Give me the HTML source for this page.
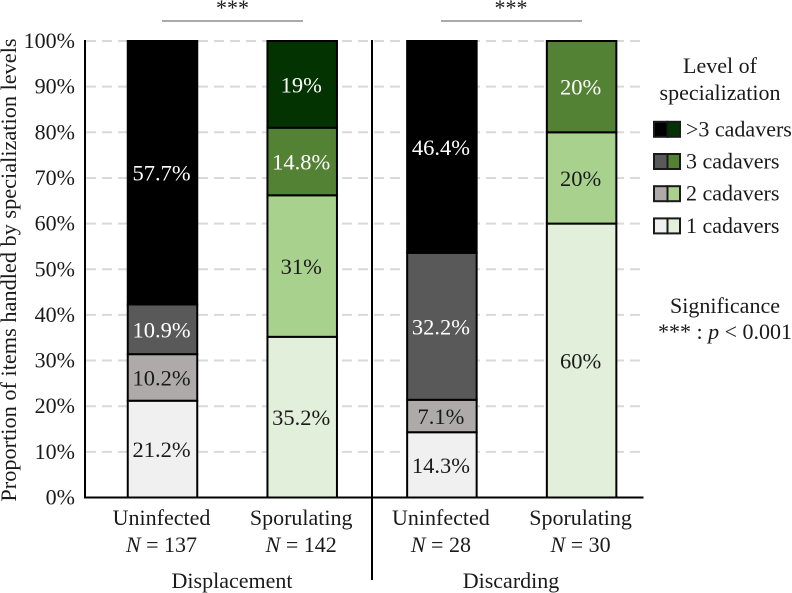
<!DOCTYPE html>
<html>
<head>
<meta charset="utf-8">
<title>Proportion of items handled by specialization levels</title>
<style>
html,body{margin:0;padding:0;background:#fff;}
svg{display:block;}
text{font-family:"Liberation Serif",serif;font-size:22px;fill:#1a1a1a;}
</style>
</head>
<body>
<svg id="chart" xmlns="http://www.w3.org/2000/svg" width="792" height="593" viewBox="0 0 792 593">
  <g id="grid"></g>
  <g id="bars"></g>
  <g id="axes">
    <line x1="85" y1="40" x2="85" y2="498.5" stroke="#000" stroke-width="2"/>
    <line x1="84" y1="497.5" x2="643.5" y2="497.5" stroke="#000" stroke-width="2"/>
    <line x1="372" y1="40" x2="372" y2="580" stroke="#000" stroke-width="2"/>
  </g>
  <g id="ticks"></g>
  <g id="cats"></g>
  <text transform="translate(16,270) rotate(-90)" text-anchor="middle" style="font-size:22.3px">Proportion of items handled by specialization levels</text>
  <text x="232" y="588" text-anchor="middle">Displacement</text>
  <text x="511" y="588" text-anchor="middle">Discarding</text>
  <line x1="162" y1="21" x2="303" y2="21" stroke="#555" stroke-width="1"/>
  <line x1="441" y1="21" x2="582" y2="21" stroke="#555" stroke-width="1"/>
  <text x="232.5" y="15" text-anchor="middle">***</text>
  <text x="511" y="15" text-anchor="middle">***</text>
  <g id="legend">
    <text x="720" y="73" text-anchor="middle">Level of</text>
    <text x="720" y="100" text-anchor="middle">specialization</text>
  </g>
  <text x="725" y="313" text-anchor="middle">Significance</text>
  <text x="725" y="339" text-anchor="middle">*** : <tspan font-style="italic">p</tspan> &lt; 0.001</text>
</svg>
<script>
const categories = ["Uninfected", "Sporulating", "Uninfected", "Sporulating"];
const sampleSizes = [137, 142, 28, 30];
const levelOne = [21.2, 35.2, 14.3, 60];
const levelTwo = [10.2, 31, 7.1, 20];
const levelThree = [10.9, 14.8, 32.2, 20];
const levelFour = [57.7, 19, 46.4, 0];
const tickValues = [0, 10, 20, 30, 40, 50, 60, 70, 80, 90, 100];
const legendLabels = ["1 cadavers", "2 cadavers", "3 cadavers", ">3 cadavers"];

const NS = "http://www.w3.org/2000/svg";
const seriesList = [levelOne, levelTwo, levelThree, levelFour];
const greyFills = ["#f0f0f0", "#aeaaaa", "#595959", "#000000"];
const greenFills = ["#e2efda", "#a9d18e", "#548235", "#033300"];
const textFills = ["#1a1a1a", "#1a1a1a", "#ffffff", "#ffffff"];

function yScale(v) { return 497.5 - v * 4.565; }
function xCenter(i) { return 162.5 + i * 139.7; }
function mk(tag, attrs, parent) {
  const el = document.createElementNS(NS, tag);
  for (const k in attrs) el.setAttribute(k, attrs[k]);
  parent.appendChild(el);
  return el;
}

const grid = document.getElementById("grid");
const ticks = document.getElementById("ticks");
tickValues.forEach(function (t) {
  if (t > 0) {
    const gl = mk("line", { x1: 86, x2: 643, y1: yScale(t), y2: yScale(t), stroke: "#d9d9d9", "stroke-width": 2, "stroke-dasharray": "10 6" }, grid);
    
    
  }
  const tl = mk("text", { x: 75, y: yScale(t) + 7, "text-anchor": "end" }, ticks);
  
  
  tl.textContent = t + "%";
});

const bars = document.getElementById("bars");
const barWidth = 69.5;
categories.forEach(function (cat, i) {
  let base = 0;
  const fills = i % 2 === 0 ? greyFills : greenFills;
  seriesList.forEach(function (series, s) {
    const v = series[i];
    if (v <= 0) return;
    const top = base + v;
    const y0 = yScale(top), y1 = yScale(base);
    const r = mk("rect", { x: xCenter(i) - barWidth / 2, y: y0, width: barWidth, height: y1 - y0, fill: fills[s], stroke: "#000", "stroke-width": 2 }, bars);
    
    
    const lbl = mk("text", { x: xCenter(i) - 1, y: yScale(base + v / 2) + 8, "text-anchor": "middle" }, bars);
    lbl.style.fill = textFills[s];
    lbl.style.fontSize = "22.5px";
    
    
    lbl.textContent = v + "%";
    base = top;
  });
});

const cats = document.getElementById("cats");
categories.forEach(function (cat, i) {
  const c = mk("text", { x: xCenter(i) - 1, y: 525, "text-anchor": "middle" }, cats);
  
  
  c.textContent = cat;
  const n = mk("text", { x: xCenter(i) - 1, y: 552, "text-anchor": "middle" }, cats);
  
  
  const it = mk("tspan", { "font-style": "italic" }, n);
  it.textContent = "N";
  const rest = mk("tspan", {}, n);
  rest.textContent = " = " + sampleSizes[i];
});

const legend = document.getElementById("legend");
legendLabels.forEach(function (name, s) {
  const row = 3 - s;
  const top = 121.8 + row * 32.2;
  const a = mk("rect", { x: 654, y: top, width: 13.5, height: 15, fill: greyFills[s], stroke: "#1a1a1a", "stroke-width": 2 }, legend);
  
  
  const b = mk("rect", { x: 667.5, y: top, width: 12.5, height: 15, fill: greenFills[s], stroke: "#1a1a1a", "stroke-width": 2 }, legend);
  
  
  const t = mk("text", { x: 686, y: top + 14.5 }, legend);
  
  
  t.textContent = name;
});
</script>
</body>
</html>
